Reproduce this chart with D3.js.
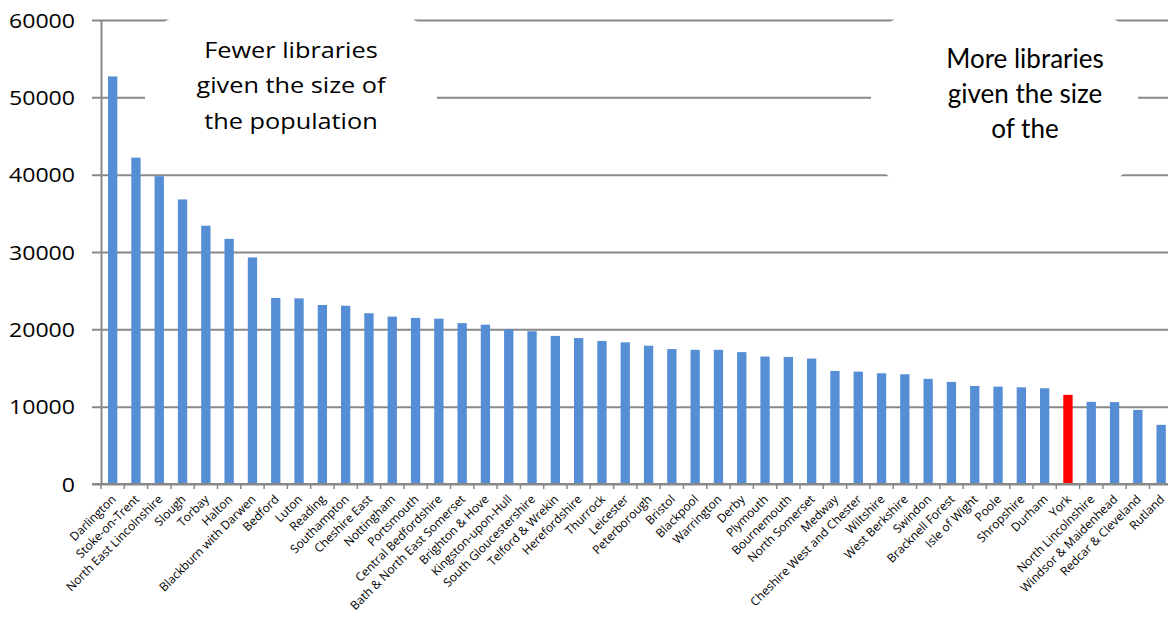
<!DOCTYPE html>
<html>
<head>
<meta charset="utf-8">
<script src="https://cdn.jsdelivr.net/npm/d3@7"></script>
<style>
  body { margin: 0; background: #fff; }
  svg { display: block; }
</style>
</head>
<body>
<div class="chart"></div>
<script>
// Chart size and plot area
const WIDTH = 1168;
const HEIGHT = 619;
const MARGIN = { top: 20, left: 101, bottom: 135 };
const STEP = 23.3;

// Data
const authorities = [
  "Darlington", "Stoke-on-Trent", "North East Lincolnshire", "Slough", "Torbay",
  "Halton", "Blackburn with Darwen", "Bedford", "Luton", "Reading",
  "Southampton", "Cheshire East", "Nottingham", "Portsmouth", "Central Bedfordshire",
  "Bath & North East Somerset", "Brighton & Hove", "Kingston-upon-Hull", "South Gloucestershire", "Telford & Wrekin",
  "Herefordshire", "Thurrock", "Leicester", "Peterborough", "Bristol",
  "Blackpool", "Warrington", "Derby", "Plymouth", "Bournemouth",
  "North Somerset", "Medway", "Cheshire West and Chester", "Wiltshire", "West Berkshire",
  "Swindon", "Bracknell Forest", "Isle of Wight", "Poole", "Shropshire",
  "Durham", "York", "North Lincolnshire", "Windsor & Maidenhead", "Redcar & Cleveland",
  "Rutland"
];
const peoplePerLibrary = [
  52700, 42200, 39800, 36800, 33400,
  31700, 29300, 24050, 24000, 23150,
  23050, 22080, 21650, 21480, 21380,
  20800, 20600, 20000, 19750, 19150,
  18870, 18500, 18320, 17880, 17450,
  17350, 17350, 17050, 16480, 16430,
  16220, 14620, 14530, 14320, 14190,
  13600, 13200, 12680, 12590, 12500,
  12380, 11530, 10620, 10590, 9580,
  7650
];
const highlighted = ["York"];
const yTicks = [0, 10000, 20000, 30000, 40000, 50000, 60000];
const leftNote = ["Fewer libraries", "given the size of", "the population"];
const rightNote = ["More libraries", "given the size", "of the"];

const plotBottom = HEIGHT - MARGIN.bottom;
const plotRight = MARGIN.left + STEP * authorities.length;

var svg = d3
  .select(".chart")
  .append("svg")
  .attr("width", WIDTH)
  .attr("height", HEIGHT);

var x = d3.scaleBand()
  .domain(authorities)
  .range([MARGIN.left, plotRight])
  .paddingInner(0.6)
  .paddingOuter(0.3);

var y = d3.scaleLinear()
  .domain([0, 60000])
  .range([plotBottom, MARGIN.top]);

// gridlines + y labels
svg.append("g")
  .attr("transform", `translate(${MARGIN.left},0)`)
  .call(d3.axisLeft(y).tickValues(yTicks).tickFormat(d3.format("d")).tickSize(-(plotRight - MARGIN.left)).tickSizeOuter(0))
  .call((g) => g.select(".domain").attr("stroke", "#888").attr("stroke-width", 2))
  .call((g) => g.selectAll(".tick line").attr("x1", -9).attr("stroke", "#888").attr("stroke-width", 2))
  .call((g) =>
    g.selectAll(".tick text")
      .attr("x", -26)
      .attr("dy", "0.36em")
      .attr("fill", "#000")
      .style("font-family", "'Open Sans', sans-serif")
      .style("font-size", "20px")
      .attr("textLength", (d) => String(d).length * 13.2)
      .attr("lengthAdjust", "spacingAndGlyphs")
  );

// bars
svg.append("g")
  .selectAll("rect")
  .data(authorities)
  .join("rect")
  .attr("x", (d) => x(d))
  .attr("width", x.bandwidth())
  .attr("y", (d, i) => y(peoplePerLibrary[i]))
  .attr("height", (d, i) => plotBottom - y(peoplePerLibrary[i]))
  .attr("fill", (d) => (highlighted.includes(d) ? "#ff0000" : "#558ed5"));

// x axis line and ticks between categories
svg.append("line")
  .attr("x1", MARGIN.left - 9)
  .attr("x2", plotRight)
  .attr("y1", plotBottom)
  .attr("y2", plotBottom)
  .attr("stroke", "#888")
  .attr("stroke-width", 2);

svg.append("g")
  .selectAll("line")
  .data(d3.range(authorities.length + 1))
  .join("line")
  .attr("x1", (i) => MARGIN.left + i * x.step())
  .attr("x2", (i) => MARGIN.left + i * x.step())
  .attr("y1", plotBottom)
  .attr("y2", plotBottom + 5)
  .attr("stroke", "#888")
  .attr("stroke-width", 1.5);

// rotated category labels
svg.append("g")
  .attr("transform", `translate(0,${plotBottom})`)
  .call(d3.axisBottom(x).tickSize(0))
  .call((g) => g.select(".domain").remove())
  .call((g) =>
    g.selectAll(".tick text")
      .attr("x", 0)
      .attr("y", 0)
      .attr("dy", "0.35em")
      .attr("text-anchor", "end")
      .attr("transform", "translate(1,13) rotate(-45)")
      .attr("fill", "#000")
      .style("font-family", "'Open Sans', sans-serif")
      .style("font-size", "12px")
  );

// annotation boxes (white, covering the gridlines)
svg.append("rect")
  .attr("x", 145).attr("y", 16).attr("width", 292).attr("height", 146)
  .attr("rx", 40).attr("fill", "#fff");

svg.append("rect")
  .attr("x", 871).attr("y", 15).attr("width", 267).attr("height", 170)
  .attr("rx", 40).attr("ry", 50).attr("fill", "#fff");

var left = svg.append("g").attr("transform", "scale(1.15,1)");
left.selectAll("text")
  .data(leftNote)
  .join("text")
  .attr("x", 291 / 1.15)
  .attr("y", (d, i) => 58 + i * 35.5)
  .attr("text-anchor", "middle")
  .style("font-family", "'Open Sans', sans-serif")
  .style("font-size", "22px")
  .text((d) => d);

svg.append("g")
  .selectAll("text")
  .data(rightNote)
  .join("text")
  .attr("x", 1025)
  .attr("y", (d, i) => 67.5 + i * 35)
  .attr("text-anchor", "middle")
  .style("font-family", "Lato, sans-serif")
  .style("font-size", "26px")
  .text((d) => d);
</script>
</body>
</html>
